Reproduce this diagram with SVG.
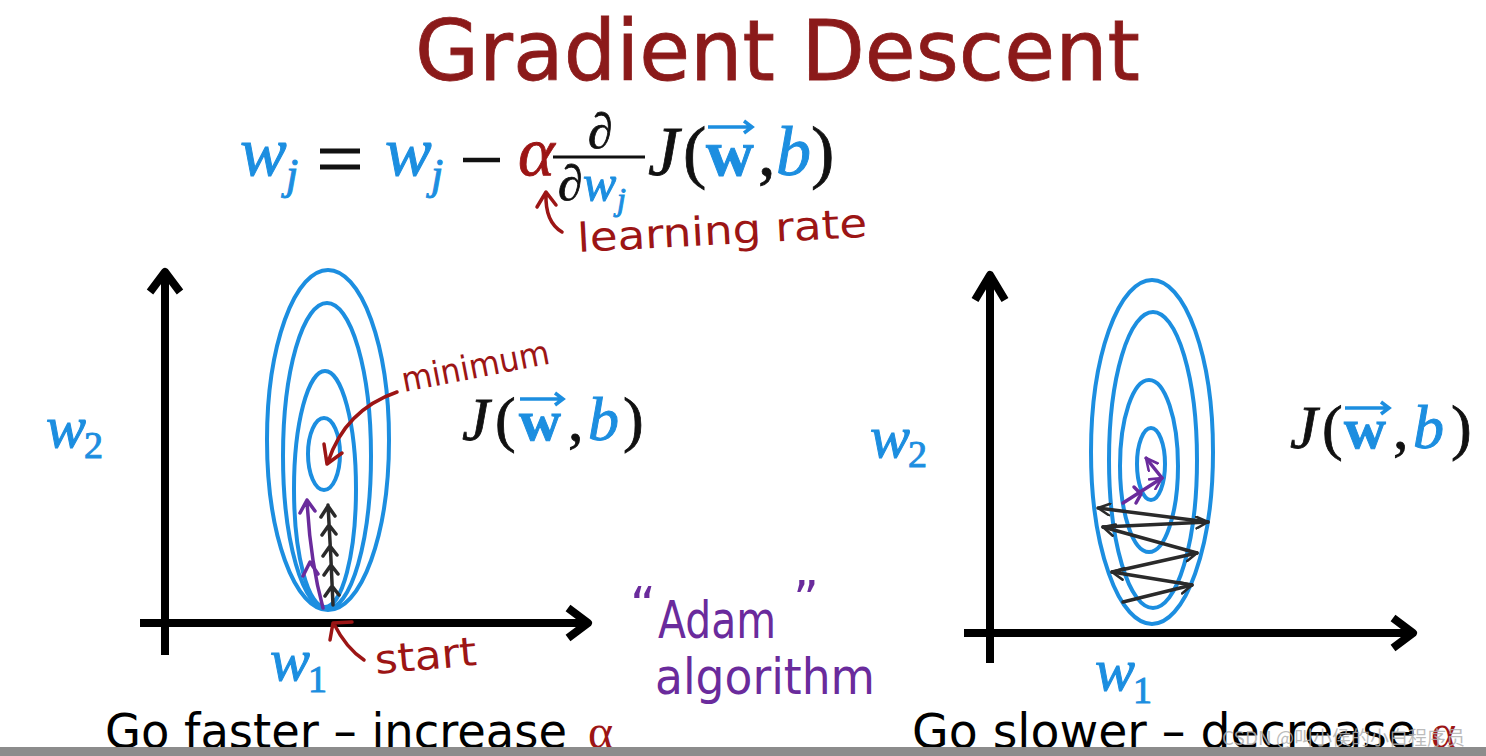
<svg xmlns="http://www.w3.org/2000/svg" width="1486" height="756" viewBox="0 0 1486 756">
<style>
.ser{font-family:"Liberation Serif","DejaVu Serif",serif}
.it{font-style:italic}
.blue{fill:#1c8ee0;stroke:#1c8ee0;stroke-width:1}
.blk{fill:#111;stroke:#111;stroke-width:0.8}
.red{fill:#9c1515;stroke:#9c1515;stroke-width:0.8}
.hand{font-family:"DejaVu Sans","Liberation Sans",sans-serif}
.hred{fill:#9c1515}
.axis{stroke:#000;stroke-width:8;fill:none;stroke-linecap:butt;stroke-linejoin:round}
.ell{fill:none;stroke:#1c8ee0;stroke-width:4}
.rarr{fill:none;stroke:#9c1515;stroke-width:3.5;stroke-linecap:round;stroke-linejoin:round}
.parr{fill:none;stroke:#6a2b9c;stroke-width:3.5;stroke-linecap:round;stroke-linejoin:round}
.karr{fill:none;stroke:#2a2a2a;stroke-width:3.5;stroke-linecap:round;stroke-linejoin:round}
.bot{font-family:"DejaVu Sans","Verdana",sans-serif;font-size:48px;fill:#000}
</style>
<defs>
<marker id="hk" viewBox="0 0 12 12" refX="11" refY="6" markerWidth="14" markerHeight="14" markerUnits="userSpaceOnUse" orient="auto"><path d="M1,1 L11,6 L1,11" fill="none" stroke="#2a2a2a" stroke-width="2.2" stroke-linecap="round" stroke-linejoin="round"/></marker>
<marker id="hp" viewBox="0 0 12 12" refX="11" refY="6" markerWidth="14" markerHeight="14" markerUnits="userSpaceOnUse" orient="auto"><path d="M1,1 L11,6 L1,11" fill="none" stroke="#6a2b9c" stroke-width="2.2" stroke-linecap="round" stroke-linejoin="round"/></marker>
</defs>
<rect width="1486" height="756" fill="#fff"/>

<g id="title"><text x="415" y="80" font-family="DejaVu Sans, Verdana, sans-serif" font-size="84" fill="#8b1a1a" stroke="#8b1a1a" stroke-width="0.8" textLength="725" lengthAdjust="spacingAndGlyphs">Gradient Descent</text></g>

<g id="equation">
<text class="ser it blue" x="240" y="175" font-size="70">w</text>
<text class="ser it blue" x="286" y="189" font-size="44">j</text>
<path d="M320 151 H360 M320 167 H360" stroke="#111" stroke-width="5"/>
<text class="ser it blue" x="385" y="175" font-size="70">w</text>
<text class="ser it blue" x="431" y="189" font-size="44">j</text>
<path d="M463 160 H500" stroke="#111" stroke-width="4.5"/>
<text class="ser it red" x="518" y="175" font-size="70">α</text>
<text class="ser blk" x="588" y="148" font-size="50">∂</text>
<line x1="553" y1="157" x2="645" y2="157" stroke="#111" stroke-width="3"/>
<text class="ser blk" x="558" y="200" font-size="50">∂</text>
<text class="ser it blue" x="583" y="200" font-size="50">w</text>
<text class="ser it blue" x="617" y="210" font-size="32">j</text>
<text class="ser it blk" x="648" y="175" font-size="70">J</text>
<text class="ser blk" x="683" y="175" font-size="70">(</text>
<text class="ser blue" x="706" y="175" font-size="66" font-weight="bold">w</text>
<path d="M708 127 H752 M744 121 L752 127 L744 133" fill="none" stroke="#1c8ee0" stroke-width="3.5"/>
<text class="ser blk" x="758" y="175" font-size="70">,</text>
<text class="ser it blue" x="776" y="175" font-size="70">b</text>
<text class="ser blk" x="811" y="175" font-size="70">)</text>
</g>

<g id="learning-rate">
<text class="hand hred" x="578" y="252" font-size="40" textLength="290" lengthAdjust="spacingAndGlyphs" transform="rotate(-3 578 252)">learning rate</text>
</g>

<g id="left-axes">
<path class="axis" d="M165 655 V272 M150 292 L165 272 L180 292"/>
<path class="axis" d="M140 623 H588 M568 608 L588 623 L568 638"/>
<text class="ser it blue" x="46" y="447" font-size="60">w</text>
<text class="ser blue" x="84" y="458" font-size="38">2</text>
<text class="ser it blue" x="270" y="680" font-size="60">w</text>
<text class="ser blue" x="308" y="692" font-size="38">1</text>
</g>

<g id="left-contours">
<ellipse class="ell" cx="328" cy="440" rx="61" ry="170"/>
<ellipse class="ell" cx="327" cy="456" rx="44" ry="153"/>
<ellipse class="ell" cx="325" cy="489" rx="31" ry="118"/>
<ellipse class="ell" cx="324" cy="454" rx="16" ry="36"/>
</g>

<g id="left-J">
<text class="ser it blk" x="462" y="440" font-size="62">J</text>
<text class="ser blk" x="495" y="440" font-size="62">(</text>
<text class="ser blue" x="519" y="440" font-size="58" font-weight="bold">w</text>
<path d="M520 399 H563 M555 393 L563 399 L555 405" fill="none" stroke="#1c8ee0" stroke-width="3.5"/>
<text class="ser blk" x="568" y="440" font-size="62">,</text>
<text class="ser it blue" x="588" y="440" font-size="62">b</text>
<text class="ser blk" x="623" y="440" font-size="62">)</text>
</g>

<g id="minimum">
<text class="hand hred" x="404" y="392" font-size="34" textLength="150" lengthAdjust="spacingAndGlyphs" transform="rotate(-11 404 392)">minimum</text>
</g>

<g id="start">
<text class="hand hred" x="376" y="674" font-size="40" textLength="102" lengthAdjust="spacingAndGlyphs" transform="rotate(-5 376 674)">start</text>
</g>

<g id="adam">
<text class="hand" x="630" y="622" font-size="50" fill="#6a2b9c">“</text>
<text class="hand" x="658" y="638" font-size="52" fill="#6a2b9c" textLength="118" lengthAdjust="spacingAndGlyphs">Adam</text>
<text class="hand" x="793" y="616" font-size="50" fill="#6a2b9c">”</text>
<text class="hand" x="655" y="694" font-size="50" fill="#6a2b9c" textLength="220" lengthAdjust="spacingAndGlyphs">algorithm</text>
</g>

<g id="right-axes">
<path class="axis" d="M990 663 V275 M975 300 L990 275 L1005 300"/>
<path class="axis" d="M964 633 H1413 M1393 618 L1413 633 L1393 648"/>
<text class="ser it blue" x="870" y="457" font-size="60">w</text>
<text class="ser blue" x="908" y="467" font-size="38">2</text>
<text class="ser it blue" x="1095" y="690" font-size="60">w</text>
<text class="ser blue" x="1133" y="703" font-size="38">1</text>
</g>

<g id="right-contours">
<ellipse class="ell" cx="1152" cy="452" rx="61" ry="172"/>
<ellipse class="ell" cx="1153" cy="460" rx="44" ry="148"/>
<ellipse class="ell" cx="1149" cy="466" rx="29" ry="86"/>
<ellipse class="ell" cx="1151" cy="464" rx="14" ry="36"/>
</g>

<g id="right-J">
<text class="ser it blk" x="1290" y="448" font-size="62">J</text>
<text class="ser blk" x="1322" y="448" font-size="62">(</text>
<text class="ser blue" x="1344" y="448" font-size="58" font-weight="bold">w</text>
<path d="M1345 408 H1389 M1381 402 L1389 408 L1381 414" fill="none" stroke="#1c8ee0" stroke-width="3.5"/>
<text class="ser blk" x="1393" y="448" font-size="62">,</text>
<text class="ser it blue" x="1413" y="448" font-size="62">b</text>
<text class="ser blk" x="1451" y="448" font-size="62">)</text>
</g>

<g id="connectors">
<path class="rarr" d="M562 232 Q545 222 546 194 M537 207 L546 192 L556 205"/>
<path class="rarr" d="M397 392 Q345 410 328 462 M324 444 L327 464 L342 453"/>
<path class="rarr" d="M364 660 Q346 648 334 624 M330 640 L333 623 L352 622"/>
<path class="parr" d="M323 608 Q310 560 307 500 M300 513 L307 500 L315 511 M303 576 L310 562 L318 574"/>
<path class="karr" d="M333 605 Q331 555 328 505 M321 517 L328 506 L335 516 M322 535 L329 525 L336 534 M323 556 L330 546 L337 555 M324 575 L331 565 L338 574 M325 596 L332 586 L339 595"/>
<line class="karr" x1="1123" y1="602" x2="1192" y2="585" marker-end="url(#hk)"/>
<line class="karr" x1="1192" y1="585" x2="1112" y2="572" marker-end="url(#hk)"/>
<line class="karr" x1="1112" y1="572" x2="1197" y2="553" marker-end="url(#hk)"/>
<line class="karr" x1="1197" y1="553" x2="1103" y2="527" marker-end="url(#hk)"/>
<line class="karr" x1="1103" y1="527" x2="1208" y2="522" marker-end="url(#hk)"/>
<line class="karr" x1="1208" y1="522" x2="1098" y2="508" marker-end="url(#hk)"/>
<line class="parr" x1="1123" y1="503" x2="1162" y2="478" marker-end="url(#hp)"/>
<path class="parr" d="M1134 487 L1141 494 L1136 503"/>
<line class="parr" x1="1162" y1="478" x2="1146" y2="458" marker-end="url(#hp)"/>
</g>

<g id="captions">
<text class="bot" x="105" y="748" textLength="462" lengthAdjust="spacingAndGlyphs">Go faster – increase</text>
<text class="ser" x="588" y="748" font-size="48" fill="#9c1515">α</text>
<text class="bot" x="912" y="748" textLength="504" lengthAdjust="spacingAndGlyphs">Go slower – decrease</text>
<text class="ser" x="1431" y="748" font-size="48" fill="#9c1515">α</text>
<rect x="0" y="747" width="1486" height="9" fill="#8c8c8c"/>
<text x="1222" y="745" font-family="Noto Sans CJK SC, Liberation Sans, sans-serif" font-size="19" fill="#b0b0b0" fill-opacity="0.85">CSDN @叫小侯的小白程序员</text>
</g>
</svg>
